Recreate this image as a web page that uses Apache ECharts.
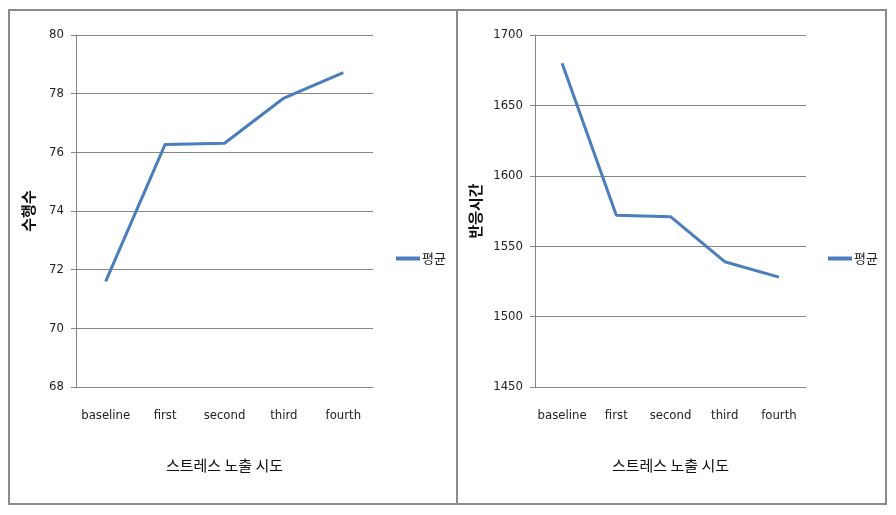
<!DOCTYPE html>
<html><head><meta charset="utf-8">
<script src="https://cdn.jsdelivr.net/npm/echarts@6/dist/echarts.min.js"></script>
<style>html,body{margin:0;padding:0;background:#fff}#c{width:896px;height:515px}</style>
</head><body><div id="c"></div>
<script>
const categories = ['baseline', 'first', 'second', 'third', 'fourth'];
const leftValues = [71.6, 76.27, 76.31, 77.85, 78.72];
const rightValues = [1680, 1572, 1571, 1539, 1528];
const leftTicks = {min: 68, max: 80, interval: 2};
const rightTicks = {min: 1450, max: 1700, interval: 50};
const seriesName = '평균';
const xName = '스트레스 노출 시도';
const leftYName = '수행수';
const rightYName = '반응시간';

const numFont = '"Liberation Sans Narrow", "DejaVu Sans Condensed", "Liberation Sans", Arial, sans-serif';
const krFont = '"Noto Sans CJK KR", sans-serif';
const gridColor = '#868686';
const lineColor = '#4A7EBB';

function xAxisFor(idx) {
  return {
    type: 'category', gridIndex: idx, data: categories, boundaryGap: true,
    axisLine: {show: true, lineStyle: {color: gridColor, width: 1}},
    axisTick: {show: false},
    axisLabel: {color: '#222', fontFamily: numFont, fontSize: 13, margin: 22, interval: 0},
    name: xName, nameLocation: 'middle', nameGap: 71,
    nameTextStyle: {color: '#111', fontFamily: krFont, fontSize: 15}
  };
}
function yAxisFor(idx, t, name, gap) {
  return {
    type: 'value', gridIndex: idx, min: t.min, max: t.max, interval: t.interval,
    axisLine: {show: true, lineStyle: {color: gridColor, width: 1}},
    axisTick: {show: true, length: 5, lineStyle: {color: gridColor}},
    splitLine: {show: true, lineStyle: {color: gridColor, width: 1}},
    axisLabel: {color: '#222', fontFamily: numFont, fontSize: 13, margin: 12, formatter: v => String(v)},
    name: name, nameLocation: 'middle', nameGap: gap, nameRotate: 90,
    nameTextStyle: {color: '#111', fontFamily: krFont, fontSize: 15, fontWeight: 'bold'}
  };
}

const chart = echarts.init(document.getElementById('c'), null, {renderer: 'canvas'});
chart.setOption({
  animation: false,
  backgroundColor: '#fff',
  grid: [
    {left: 76, top: 35, width: 297, height: 352},
    {left: 535, top: 35, width: 271, height: 352}
  ],
  xAxis: [xAxisFor(0), xAxisFor(1)],
  yAxis: [yAxisFor(0, leftTicks, leftYName, 40), yAxisFor(1, rightTicks, rightYName, 52)],
  legend: [
    {left: 391, top: 247, data: [seriesName], icon: 'rect', itemWidth: 24, itemHeight: 4, itemGap: 2,
     textStyle: {fontFamily: krFont, fontSize: 13, color: '#222', padding: [0,0,0,-3]}},
    {left: 823, top: 247, data: [seriesName], icon: 'rect', itemWidth: 24, itemHeight: 4, itemGap: 2,
     textStyle: {fontFamily: krFont, fontSize: 13, color: '#222', padding: [0,0,0,-3]}}
  ],
  series: [
    {name: seriesName, type: 'line', xAxisIndex: 0, yAxisIndex: 0, data: leftValues,
     symbol: 'none', lineStyle: {color: lineColor, width: 3}, itemStyle: {color: lineColor}},
    {name: seriesName, type: 'line', xAxisIndex: 1, yAxisIndex: 1, data: rightValues,
     symbol: 'none', lineStyle: {color: lineColor, width: 3}, itemStyle: {color: lineColor}}
  ],
  graphic: [
    {type: 'rect', shape: {x: 9, y: 10, width: 877, height: 494}, style: {fill: 'none', stroke: '#8a8a8a', lineWidth: 2}, silent: true},
    {type: 'line', shape: {x1: 457, y1: 10, x2: 457, y2: 504}, style: {stroke: '#8a8a8a', lineWidth: 2}, silent: true}
  ]
});
</script></body></html>
